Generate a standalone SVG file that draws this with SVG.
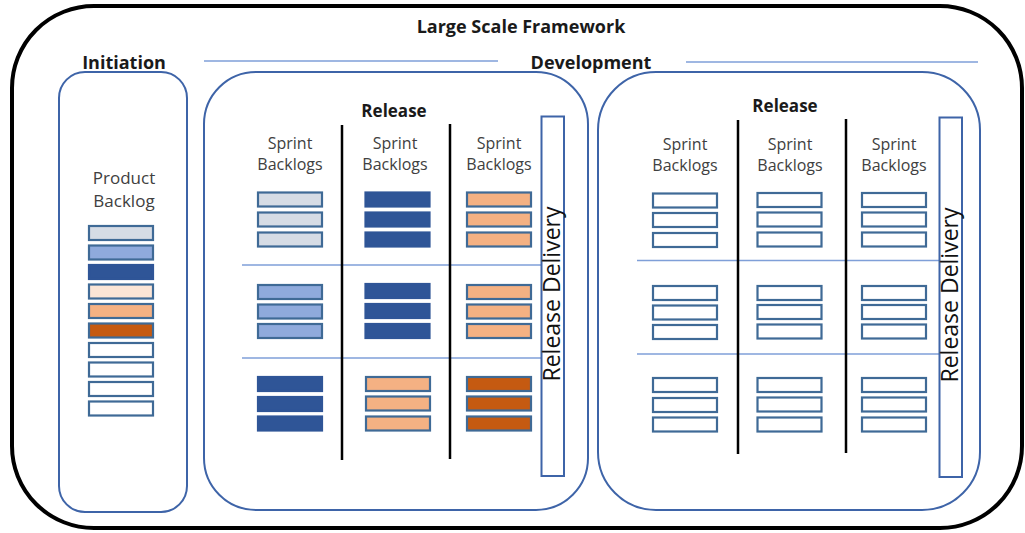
<svg xmlns="http://www.w3.org/2000/svg" width="1025" height="533" viewBox="0 0 1025 533">
<style>
.title{font-family:"Open Sans","Liberation Sans",sans-serif;font-weight:bold;fill:#1a1a1a;text-anchor:middle}
.lbl{font-family:"Open Sans","Liberation Sans",sans-serif;fill:#404040;text-anchor:middle}
.rd{font-family:"Open Sans","Liberation Sans",sans-serif;fill:#111;text-anchor:middle;font-size:23px}
.box{fill:none;stroke:#3E64A8;stroke-width:2}
.hl{stroke:#7F9FD8;stroke-width:1.5}
.vl{stroke:#000;stroke-width:2.5}
.bar{stroke:#3F6A96;stroke-width:2.2}
.w{fill:#fff}.g{fill:#D6DCE5}.lb{fill:#8FAADC}.db{fill:#2F5597;stroke:#2F5597}.pe{fill:#FBE5D6}.lo{fill:#F4B183}.do{fill:#C55A11}
.rdb{fill:#fff;stroke:#3E64A8;stroke-width:2}
</style>
<defs>
<rect id="b" width="64" height="14"/>
</defs>
<g id="framework">
<rect x="12" y="6" width="1010" height="522" rx="82" ry="82" fill="#fff" stroke="#000" stroke-width="4"/>
<text class="title" x="521" y="33" font-size="18">Large Scale Framework</text>
</g>
<g id="phase-labels">
<text class="title" x="124" y="68.5" font-size="18">Initiation</text>
<text class="title" x="591" y="68.5" font-size="18">Development</text>
</g>
<g id="connectors">
<line class="hl" x1="204" y1="61" x2="498" y2="61"/>
<line class="hl" x1="686" y1="62" x2="978" y2="62"/>
</g>
<g id="initiation">
<rect class="box" x="59" y="72" width="128" height="440" rx="26"/>
<text class="lbl" x="124" y="184" font-size="17">Product</text>
<text class="lbl" x="124" y="206.5" font-size="17">Backlog</text>
<rect class="bar g" x="89" y="226" width="64" height="14"/>
<rect class="bar lb" x="89" y="245.5" width="64" height="14"/>
<rect class="bar db" x="89" y="265" width="64" height="14"/>
<rect class="bar pe" x="89" y="284.5" width="64" height="14"/>
<rect class="bar lo" x="89" y="304" width="64" height="14"/>
<rect class="bar do" x="89" y="323.5" width="64" height="14"/>
<rect class="bar w" x="89" y="343" width="64" height="14"/>
<rect class="bar w" x="89" y="362.5" width="64" height="14"/>
<rect class="bar w" x="89" y="382" width="64" height="14"/>
<rect class="bar w" x="89" y="401.5" width="64" height="14"/>
</g>
<g id="release-1">
<rect class="box" x="204" y="72" width="384" height="438" rx="52"/>
<text class="title" x="394" y="117" font-size="17">Release</text>
<line class="hl" x1="242" y1="265" x2="541" y2="265"/>
<line class="hl" x1="242" y1="358" x2="541" y2="358"/>
<line class="vl" x1="342" y1="125" x2="342" y2="460"/>
<line class="vl" x1="450" y1="124" x2="450" y2="459"/>
<text class="lbl" x="290" y="149" font-size="16">Sprint</text>
<text class="lbl" x="290" y="170" font-size="16">Backlogs</text>
<text class="lbl" x="395" y="149" font-size="16">Sprint</text>
<text class="lbl" x="395" y="170" font-size="16">Backlogs</text>
<text class="lbl" x="499" y="149" font-size="16">Sprint</text>
<text class="lbl" x="499" y="170" font-size="16">Backlogs</text>
<use href="#b" class="bar g" x="258" y="192.5"/>
<use href="#b" class="bar g" x="258" y="212.5"/>
<use href="#b" class="bar g" x="258" y="232.5"/>
<use href="#b" class="bar db" x="365.5" y="192.5"/>
<use href="#b" class="bar db" x="365.5" y="212.5"/>
<use href="#b" class="bar db" x="365.5" y="232.5"/>
<use href="#b" class="bar lo" x="467" y="192.5"/>
<use href="#b" class="bar lo" x="467" y="212.5"/>
<use href="#b" class="bar lo" x="467" y="232.5"/>
<use href="#b" class="bar lb" x="258" y="285"/>
<use href="#b" class="bar lb" x="258" y="304.5"/>
<use href="#b" class="bar lb" x="258" y="324"/>
<use href="#b" class="bar db" x="365.5" y="284"/>
<use href="#b" class="bar db" x="365.5" y="304"/>
<use href="#b" class="bar db" x="365.5" y="324"/>
<use href="#b" class="bar lo" x="467" y="285"/>
<use href="#b" class="bar lo" x="467" y="304.5"/>
<use href="#b" class="bar lo" x="467" y="324"/>
<use href="#b" class="bar db" x="258" y="377"/>
<use href="#b" class="bar db" x="258" y="397"/>
<use href="#b" class="bar db" x="258" y="416.5"/>
<use href="#b" class="bar lo" x="366" y="377"/>
<use href="#b" class="bar lo" x="366" y="396.5"/>
<use href="#b" class="bar lo" x="366" y="416.5"/>
<use href="#b" class="bar do" x="467" y="377"/>
<use href="#b" class="bar do" x="467" y="396.5"/>
<use href="#b" class="bar do" x="467" y="416.5"/>
<rect class="rdb" x="541.5" y="116.5" width="22.5" height="359.5"/>
<text class="rd" transform="translate(560,294) rotate(-90)">Release Delivery</text>
</g>
<g id="release-2">
<rect class="box" x="598" y="72" width="382" height="438" rx="58"/>
<text class="title" x="785" y="111.5" font-size="17">Release</text>
<line class="hl" x1="637" y1="260.5" x2="940" y2="260.5"/>
<line class="hl" x1="637" y1="354" x2="940" y2="354"/>
<line class="vl" x1="738" y1="120" x2="738" y2="454"/>
<line class="vl" x1="846" y1="119" x2="846" y2="453"/>
<text class="lbl" x="685" y="150" font-size="16">Sprint</text>
<text class="lbl" x="685" y="171" font-size="16">Backlogs</text>
<text class="lbl" x="790" y="150" font-size="16">Sprint</text>
<text class="lbl" x="790" y="171" font-size="16">Backlogs</text>
<text class="lbl" x="894" y="150" font-size="16">Sprint</text>
<text class="lbl" x="894" y="171" font-size="16">Backlogs</text>
<use href="#b" class="bar w" x="653" y="193.5"/>
<use href="#b" class="bar w" x="653" y="213"/>
<use href="#b" class="bar w" x="653" y="233"/>
<use href="#b" class="bar w" x="757.5" y="193"/>
<use href="#b" class="bar w" x="757.5" y="212.5"/>
<use href="#b" class="bar w" x="757.5" y="232.5"/>
<use href="#b" class="bar w" x="862" y="193"/>
<use href="#b" class="bar w" x="862" y="212.5"/>
<use href="#b" class="bar w" x="862" y="232.5"/>
<use href="#b" class="bar w" x="653" y="286"/>
<use href="#b" class="bar w" x="653" y="305.5"/>
<use href="#b" class="bar w" x="653" y="325"/>
<use href="#b" class="bar w" x="757.5" y="286"/>
<use href="#b" class="bar w" x="757.5" y="305"/>
<use href="#b" class="bar w" x="757.5" y="324.5"/>
<use href="#b" class="bar w" x="862" y="286"/>
<use href="#b" class="bar w" x="862" y="305"/>
<use href="#b" class="bar w" x="862" y="324.5"/>
<use href="#b" class="bar w" x="653" y="378"/>
<use href="#b" class="bar w" x="653" y="398"/>
<use href="#b" class="bar w" x="653" y="417.5"/>
<use href="#b" class="bar w" x="757.5" y="378"/>
<use href="#b" class="bar w" x="757.5" y="397.5"/>
<use href="#b" class="bar w" x="757.5" y="417.5"/>
<use href="#b" class="bar w" x="862" y="378"/>
<use href="#b" class="bar w" x="862" y="397.5"/>
<use href="#b" class="bar w" x="862" y="417.5"/>
<rect class="rdb" x="939.5" y="117.5" width="22.5" height="359.5"/>
<text class="rd" transform="translate(957.5,295) rotate(-90)">Release Delivery</text>
</g>
</svg>
